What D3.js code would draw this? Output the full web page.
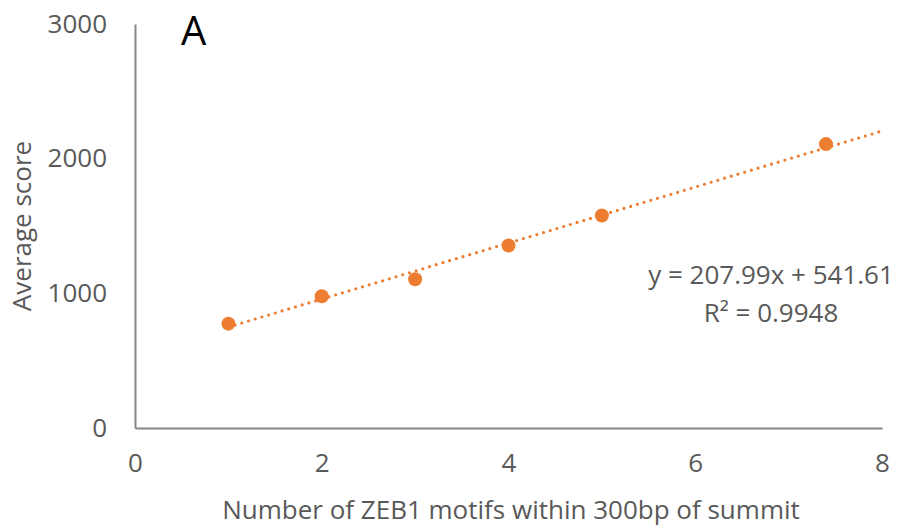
<!DOCTYPE html>
<html>
<head>
<meta charset="utf-8">
<script src="https://cdn.jsdelivr.net/npm/d3@7"></script>
<style>
  html, body { margin: 0; padding: 0; background: #fff; }
  svg { display: block; }
  text { font-family: "Open Sans", "Noto Sans", sans-serif; }
</style>
</head>
<body>
<svg id="chart" width="900" height="526"></svg>
<script>
// Motif count vs. average peak score
const motifCounts = [1, 2, 3, 4, 5, 7.4];
const avgScores = [775, 978, 1105, 1355, 1578, 2108];
const xTicks = [0, 2, 4, 6, 8];
const yTicks = [0, 1000, 2000, 3000];
const fitSlope = 207.99;
const fitIntercept = 541.61;
const fitR2 = 0.9948;

const orange = "#ED7D31";
const grey = "#595959";
const axisGrey = "#868686";
const fontSize = 26;

const svg = d3.select("#chart");
const x = d3.scaleLinear().domain([0, 8]).range([135, 882]);
const y = d3.scaleLinear().domain([0, 3000]).range([428, 24]);

// axes without tick marks, only labels
const xAxis = svg.append("g").attr("transform", `translate(0,${y(0)})`)
  .call(d3.axisBottom(x).tickValues(xTicks).tickSize(0).tickPadding(26)
    .tickFormat(d3.format("d")));
const yAxis = svg.append("g").attr("transform", `translate(${x(0)},0)`)
  .call(d3.axisLeft(y).tickValues(yTicks).tickSize(0).tickPadding(28)
    .tickFormat(d3.format("d")));
[xAxis, yAxis].forEach(g => {
  g.select(".domain").attr("stroke", axisGrey).attr("stroke-width", 2);
  g.selectAll("text").attr("fill", grey).attr("font-size", fontSize)
    .attr("font-family", '"Open Sans", sans-serif');
});

// linear trendline, dotted
const fitX = [1, 8];
svg.append("path")
  .datum(fitX.map(v => [v, fitSlope * v + fitIntercept]))
  .attr("d", d3.line().x(d => x(d[0])).y(d => y(d[1])))
  .attr("fill", "none")
  .attr("stroke", orange)
  .attr("stroke-width", 3.2)
  .attr("stroke-linecap", "round")
  .attr("stroke-dasharray", "0 7");

// data points
svg.append("g").selectAll("circle")
  .data(motifCounts.map((v, i) => [v, avgScores[i]]))
  .join("circle")
  .attr("cx", d => x(d[0]))
  .attr("cy", d => y(d[1]))
  .attr("r", 7)
  .attr("fill", orange);

// axis titles
svg.append("text")
  .attr("x", 511).attr("y", 519)
  .attr("text-anchor", "middle")
  .attr("fill", grey).attr("font-size", fontSize)
  .text("Number of ZEB1 motifs within 300bp of summit");
svg.append("text")
  .attr("transform", "translate(31,226) rotate(-90)")
  .attr("text-anchor", "middle")
  .attr("fill", grey).attr("font-size", fontSize)
  .text("Average score");

// panel letter
svg.append("text")
  .attr("x", 181).attr("y", 45)
  .attr("fill", "#000").attr("font-size", 40)
  .text("A");

// fit equation
svg.append("text")
  .attr("x", 771).attr("y", 284)
  .attr("text-anchor", "middle")
  .attr("fill", grey).attr("font-size", fontSize)
  .text(`y = ${fitSlope}x + ${fitIntercept}`);
svg.append("text")
  .attr("x", 771).attr("y", 322)
  .attr("text-anchor", "middle")
  .attr("fill", grey).attr("font-size", fontSize)
  .text(`R² = ${fitR2}`);
</script>
</body>
</html>
